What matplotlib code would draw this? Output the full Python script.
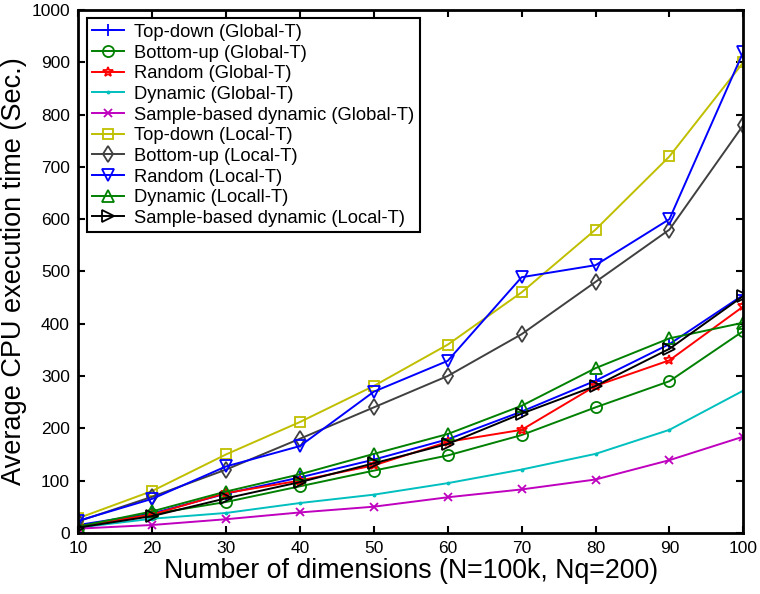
import matplotlib
matplotlib.use("Agg")
import matplotlib.pyplot as plt

plt.rcParams["font.family"] = ["Liberation Sans", "DejaVu Sans"]

# Number of dimensions
dims = [10, 20, 30, 40, 50, 60, 70, 80, 90, 100]

# Average CPU execution time (Sec.) per method
topdown_global = [15, 37, 75, 106, 140, 179, 232, 291, 361, 455]
bottomup_global = [10, 36, 59, 89, 119, 148, 187, 240, 290, 386]
random_global = [12, 35, 76, 100, 129, 174, 197, 281, 330, 433]
dynamic_global = [10, 27, 38, 57, 73, 95, 121, 151, 197, 272]
sample_global = [8, 15, 26, 39, 50, 68, 83, 102, 139, 184]
topdown_local = [28, 80, 150, 212, 281, 360, 460, 580, 720, 900]
bottomup_local = [22, 69, 121, 180, 240, 300, 380, 480, 580, 780]
random_local = [23, 65, 127, 166, 270, 329, 489, 512, 600, 920]
dynamic_local = [12, 41, 79, 112, 151, 189, 243, 315, 372, 402]
sample_local = [10, 32, 66, 97, 133, 170, 228, 281, 352, 453]

labels = [
    "Top-down (Global-T)",
    "Bottom-up (Global-T)",
    "Random (Global-T)",
    "Dynamic (Global-T)",
    "Sample-based dynamic (Global-T)",
    "Top-down (Local-T)",
    "Bottom-up (Local-T)",
    "Random (Local-T)",
    "Dynamic (Locall-T)",
    "Sample-based dynamic (Local-T)",
]

series = [topdown_global, bottomup_global, random_global, dynamic_global,
          sample_global, topdown_local, bottomup_local, random_local,
          dynamic_local, sample_local]

# matlab-like colours and markers
colors = ["#0000ff", "#008000", "#ff0000", "#00bfbf", "#bf00bf",
          "#bfbf00", "#404040", "#0000ff", "#008000", "#000000"]
markers = ["+", "o", "*", ".", "x", "s", "d", "v", "^", ">"]
msizes = [8, 8, 7, 3, 6, 7, 8, 9, 9, 9]

fig, ax = plt.subplots(figsize=(7.6, 5.94), dpi=100)
fig.subplots_adjust(left=0.103, right=0.978, top=0.983, bottom=0.103)

for y, lab, c, m, ms in zip(series, labels, colors, markers, msizes):
    ax.plot(dims, y, color=c, marker=m, markersize=ms, fillstyle="none",
            markeredgewidth=1.3, linewidth=1.4, label=lab)

ax.set_xlim(10, 100)
ax.set_ylim(0, 1000)
ax.set_xticks(dims)
ax.set_yticks(range(0, 1001, 100))
ax.tick_params(direction="in", length=5, width=1.5, labelsize=12.5,
               top=True, right=True, pad=6)
for s in ax.spines.values():
    s.set_linewidth(2)

ax.set_xlabel("Number of dimensions (N=100k, Nq=200)", fontsize=19.3, labelpad=1)
ax.set_ylabel("Average CPU execution time (Sec.)", fontsize=19.5, labelpad=3)

leg = ax.legend(loc="upper left", fontsize=13.2, fancybox=False, framealpha=1,
                edgecolor="black", borderaxespad=0.45, handlelength=1.75,
                handletextpad=0.55, labelspacing=0.2, borderpad=0.3)
leg.get_frame().set_linewidth(1.5)

fig.savefig("out.png")
